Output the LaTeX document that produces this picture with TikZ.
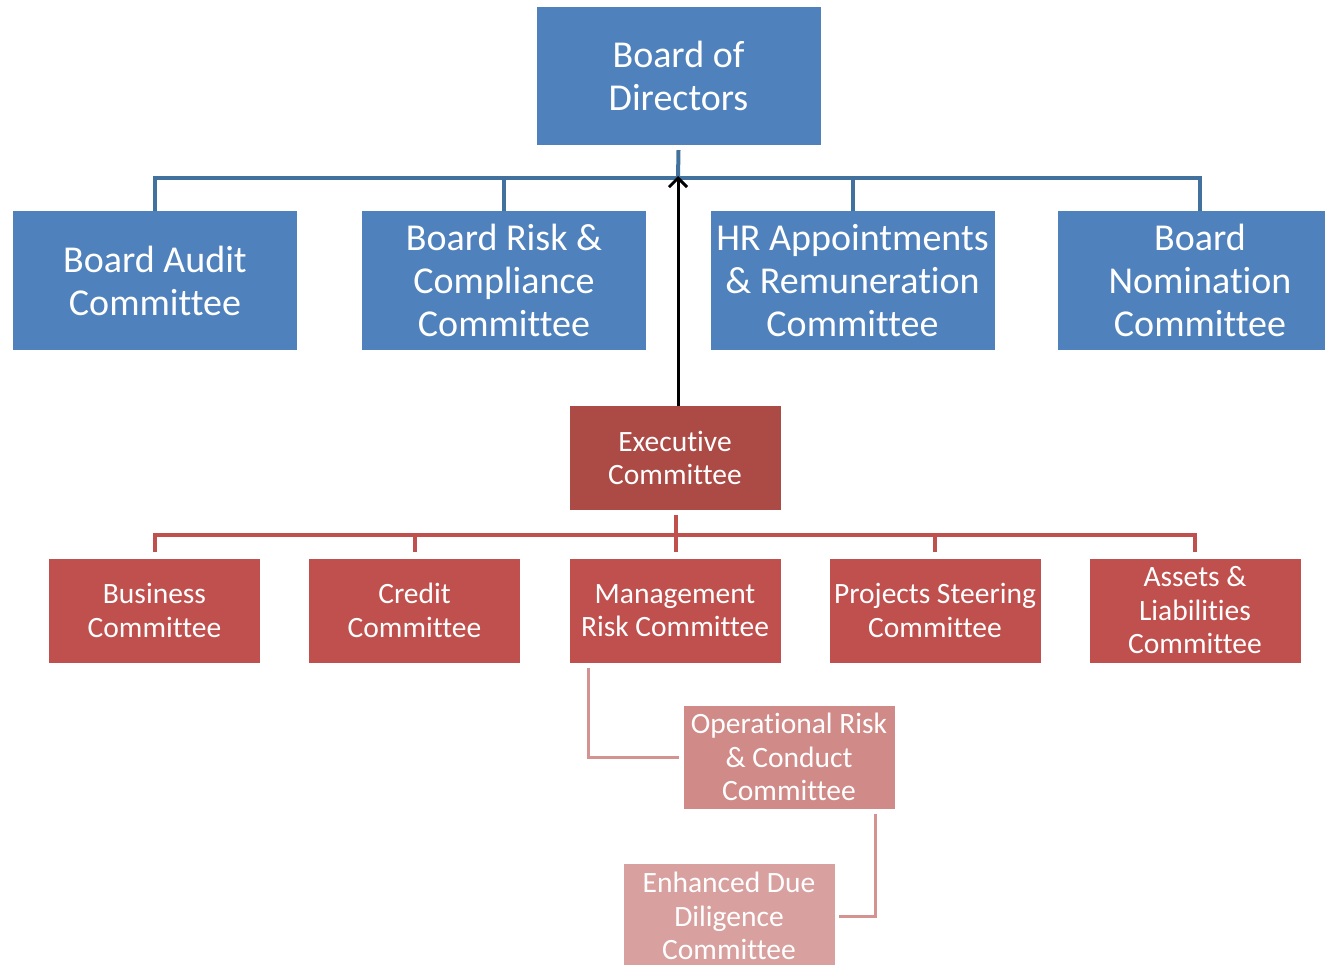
\documentclass[tikz,border=0pt]{standalone}
\usepackage{fontspec}
\setmainfont{Carlito}[Ligatures=NoCommon]
\usetikzlibrary{arrows.meta}
\definecolor{bluebox}{HTML}{4F81BD}
\definecolor{blueline}{HTML}{41719C}
\definecolor{exec}{HTML}{AC4A45}
\definecolor{redbox}{HTML}{C0504D}
\definecolor{opbox}{HTML}{D08A88}
\definecolor{edbox}{HTML}{D8A19F}
\definecolor{pinkline}{HTML}{D49391}
\tikzset{
  bigbox/.style={fill=bluebox, text=white, minimum width=284pt, minimum height=139pt, inner sep=0pt, align=center, font=\fontsize{38}{43}\selectfont},
  redb/.style={fill=redbox, text=white, minimum width=211pt, minimum height=104pt, inner sep=0pt, align=center, font=\fontsize{29.5}{33.5}\selectfont},
  bline/.style={draw=blueline, line width=4pt},
  rline/.style={draw=redbox, line width=4pt},
  pline/.style={draw=pinkline, line width=3pt},
}
\begin{document}
\begin{tikzpicture}[x=1pt,y=-1pt]
\useasboundingbox (0,0) rectangle (1325,965);
\begin{scope}
\clip (0,0) rectangle (1325,965);
\node[bigbox, minimum height=138pt] (bod) at (678.5,76) {Board of\\Directors};
\node[bigbox] (audit) at (155,280.5) {Board Audit\\Committee};
\node[bigbox] (risk) at (504,280.5) {Board Risk \&\\Compliance\\Committee};
\node[bigbox] (hr) at (852.5,280.5) {HR Appointments\\\& Remuneration\\Committee};
\node[bigbox] (nom) at (1200,280.5) {Board\\Nomination\\Committee};

\node[redb, fill=exec] (exec) at (675,458) {Executive\\Committee};

\node[redb] (bus) at (154.5,610.5) {Business\\Committee};
\node[redb] (cred) at (414.5,610.5) {Credit\\Committee};
\node[redb] (mrc) at (675,610.5) {Management\\Risk Committee};
\node[redb] (proj) at (935,610.5) {Projects Steering\\Committee};
\node[redb] (alc) at (1195,610.5) {Assets \&\\Liabilities\\Committee};

\node[redb, fill=opbox, minimum height=103pt] (op) at (789,757) {Operational Risk\\\& Conduct\\Committee};
\node[redb, fill=edbox] (edd) at (729,916) {Enhanced Due\\Diligence\\Committee};

% blue connectors
\coordinate (bj) at (678,178);
\draw[bline] ([yshift=-5pt]bod.south) -- (bj);
\draw[bline] (audit.north) |- (bj);
\draw[bline] (nom.north) |- (bj);
\draw[bline] (risk.north) -- (risk.north |- bj);
\draw[bline] (hr.north) -- (hr.north |- bj);
\draw[line width=3pt, -{Straight Barb[length=9pt,width=18pt,line width=3pt]}] (exec.north -| bj) -- ([yshift=2pt]bj);

% red connectors
\coordinate (rj) at (676,535);
\draw[rline] ([yshift=-5pt]exec.south -| rj) -- ([yshift=6pt]mrc.north -| rj);
\draw[rline] ([yshift=6pt]bus.north) |- (rj);
\draw[rline] ([yshift=6pt]alc.north) |- (rj);
\draw[rline] ([yshift=6pt]cred.north) -- (cred.north |- rj);
\draw[rline] ([yshift=6pt]proj.north) -- (proj.north |- rj);

% pink connectors
\draw[pline] ([yshift=-5pt]mrc.south -| 588,0) |- ([xshift=-4pt]op.west);
\draw[pline] ([yshift=-5pt]op.south -| 875,0) |- ([xshift=4pt]edd.east);
\end{scope}
\end{tikzpicture}
\end{document}
